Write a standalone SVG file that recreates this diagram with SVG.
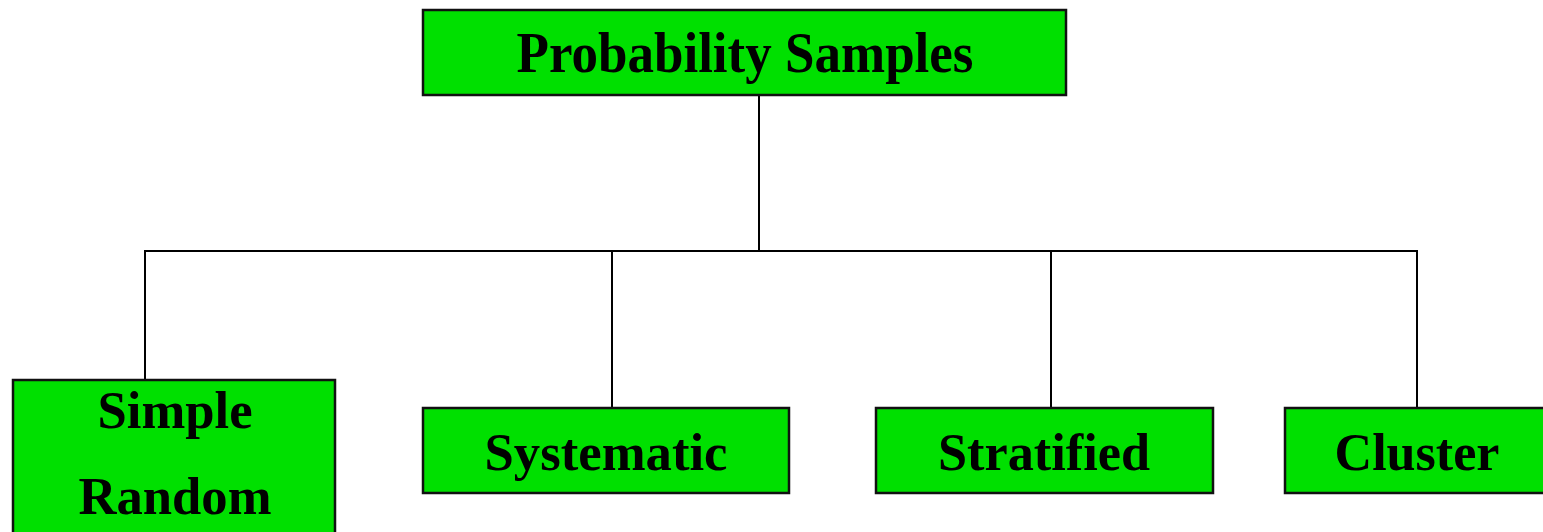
<svg xmlns="http://www.w3.org/2000/svg" width="1543" height="532" viewBox="0 0 1543 532">
<style>
.box{fill:#00e000;stroke:#111;stroke-width:2.5}
.t{font-family:"Liberation Serif","Times New Roman",serif;font-weight:bold;font-size:53px;fill:#000;text-anchor:middle}
.c{stroke:#000;stroke-width:2;fill:none}
</style>
<rect width="1543" height="532" fill="#fff"/>
<g id="connectors">
<line class="c" x1="759" y1="95" x2="759" y2="251"/>
<line class="c" x1="145" y1="251" x2="1418" y2="251"/>
<line class="c" x1="145" y1="250" x2="145" y2="380"/>
<line class="c" x1="612" y1="250" x2="612" y2="408"/>
<line class="c" x1="1051" y1="250" x2="1051" y2="408"/>
<line class="c" x1="1417" y1="250" x2="1417" y2="408"/>
</g>
<g id="probability">
<rect class="box" x="423" y="10" width="643" height="85"/>
<text class="t" x="745" y="72" style="font-size:56px" textLength="457" lengthAdjust="spacingAndGlyphs">Probability Samples</text>
</g>
<g id="simple-random">
<rect class="box" x="13" y="380" width="322" height="160"/>
<text class="t" x="175" y="428" textLength="155" lengthAdjust="spacingAndGlyphs">Simple</text>
<text class="t" x="175" y="514" textLength="193" lengthAdjust="spacingAndGlyphs">Random</text>
</g>
<g id="systematic">
<rect class="box" x="423" y="408" width="366" height="85"/>
<text class="t" x="606" y="470" textLength="243" lengthAdjust="spacingAndGlyphs">Systematic</text>
</g>
<g id="stratified">
<rect class="box" x="876" y="408" width="337" height="85"/>
<text class="t" x="1044" y="470" textLength="212" lengthAdjust="spacingAndGlyphs">Stratified</text>
</g>
<g id="cluster">
<rect class="box" x="1285" y="408" width="270" height="85"/>
<text class="t" x="1417" y="470" textLength="165" lengthAdjust="spacingAndGlyphs">Cluster</text>
</g>
</svg>
